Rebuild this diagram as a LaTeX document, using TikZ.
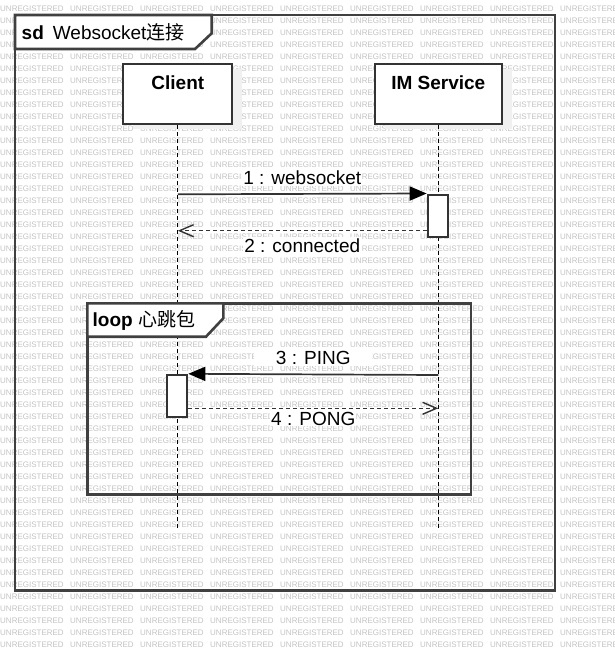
\documentclass[tikz,border=0pt]{standalone}
\usepackage{fontspec}
\setmainfont{Liberation Sans}
\newfontfamily\cjk{Noto Sans CJK SC}
\usetikzlibrary{arrows.meta,shadows}

\begin{document}
\begin{tikzpicture}[x=1pt,y=-1pt,font=\fontsize{19}{23}\selectfont,
    wm/.style={anchor=west,inner sep=0,text=black!24,font=\fontsize{8}{8}\selectfont},
    frame/.style={draw=black!75,line width=2.6pt},
    lifebox/.style={draw=black!80,line width=2pt,fill=white,inner sep=0,anchor=north,
        text height=25.3pt,text depth=35.3pt,minimum width=#1,font=\fontsize{19}{23}\selectfont\bfseries,
        drop shadow={shadow xshift=10pt,shadow yshift=-5pt,fill=black!6,opacity=1}},
    act/.style={draw=black!80,line width=2pt,fill=white,inner sep=0,minimum width=20.6pt,minimum height=42pt},
    lifeline/.style={draw=black,line width=1.1pt,dash pattern=on 4pt off 3pt},
    call/.style={draw=black!80,line width=1.7pt,-{Triangle[length=17pt,width=14pt,black]}},
    reply/.style={draw=black!80,line width=1.4pt,dash pattern=on 4pt off 3pt,-{Straight Barb[length=14pt,width=12pt]}},
    lbl/.style={fill=white,text=black,inner sep=1pt}]

    \useasboundingbox (0,0) rectangle (615,651);

    \foreach \r in {0,...,53}
        \foreach \c in {0,...,8}
            \node[wm] (wm-\r-\c) at (70*\c,8.3+12*\r) {UNREGISTERED};

    \draw[frame] (15,15) rectangle (555,590.3);
    \draw[frame,fill=white] (15,15) -| (211.7,33.3) -- (195,49) -- (15,49) -- cycle;
    \node[anchor=west,inner sep=0] (sd) at (21.5,32) {\textbf{sd}\hspace{9pt}Websocket{\cjk 连接}};

    \begin{scope}
        \node[lifebox=109pt] (client) at (177.8,62.7) {Client};
        \node[lifebox=126.7pt] (service) at (438.3,62.7) {IM Service};

        \coordinate (clientend) at (177.8,530);
        \coordinate (serviceend) at (438.3,530);

        \draw[lifeline] (client) -- (clientend);
        \draw[lifeline] (service) -- (serviceend);
    \end{scope}

    \draw[frame] (87.3,303.3) rectangle (471,494.3);
    \draw[frame,fill=white] (87.3,303.3) -| (223.3,318.3) -- (206,336.7) -- (87.3,336.7) -- cycle;
    \node[anchor=west,inner sep=0] (loopname) at (92.5,320) {\textbf{loop}\hspace{6pt}{\cjk 心跳包}};

    \begin{scope}
        \node[act] (act1) at (438,215.5) {};
        \node[act] (act2) at (177,395.8) {};

        \coordinate (m1) at (177.8,194.3);
        \coordinate (m2) at (177.8,230.7);
        \coordinate (m3) at (438.3,375);
        \coordinate (m4) at (438.3,408.3);

        \path (m1) edge[call] node[lbl,above=7pt] (l1) {1 : websocket} (act1.north west);
        \path (act1.west |- m2) edge[reply] node[lbl,below=6pt] (l2) {2 : connected} (m2);

        \path (m3) edge[call] node[lbl,above=8pt,minimum width=118pt] (l3) {3 : PING} (act2.north east);
        \path (act2.east |- m4) edge[reply] node[lbl,below=2pt] (l4) {4 : PONG} (m4);
    \end{scope}

\end{tikzpicture}
\end{document}
